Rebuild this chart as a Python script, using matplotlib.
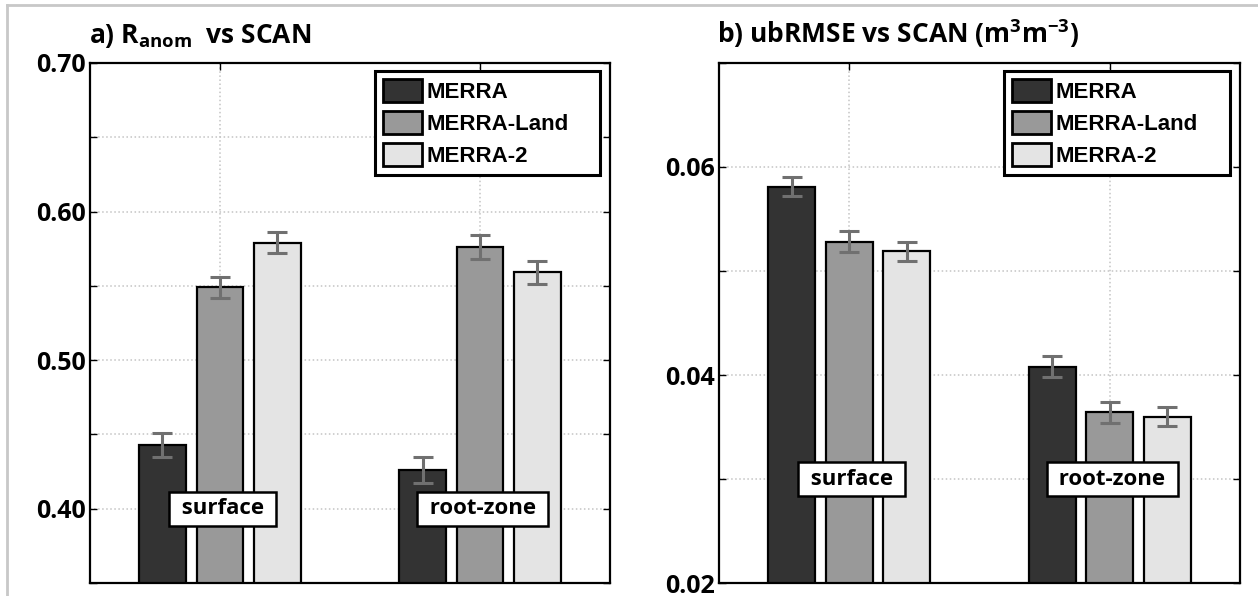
import matplotlib.pyplot as plt
from matplotlib.lines import Line2D

# datos
groups = ['surface', 'root-zone']
series = ['MERRA', 'MERRA-Land', 'MERRA-2']
colors = ['#333333', '#999999', '#e4e4e4']

r_anom = [[0.443, 0.426], [0.549, 0.576], [0.579, 0.559]]
r_err = [[0.008, 0.009], [0.007, 0.008], [0.007, 0.008]]

ubrmse = [[0.0581, 0.0408], [0.0528, 0.0364], [0.0519, 0.0360]]
u_err = [[0.0009, 0.0010], [0.0010, 0.0010], [0.0009, 0.0009]]

font = 'Open Sans'
plt.rcParams['mathtext.fontset'] = 'custom'
plt.rcParams['mathtext.rm'] = font + ':bold'


def panel(ax, vals, errs, ylim, step, labelled, label_y, err_color='#707070'):
    x = [1, 2]
    off = 0.221
    w = 0.18
    for i in range(3):
        pos = [xx + (i - 1) * off for xx in x]
        ax.bar(pos, vals[i], w, yerr=errs[i], color=colors[i], edgecolor='black',
               linewidth=1.6, label=series[i],
               error_kw=dict(ecolor=err_color, elinewidth=2.2, capsize=7, capthick=2.2))
    ax.set_xlim(0.5, 2.5)
    ax.set_ylim(*ylim)
    ticks = []
    t = ylim[0]
    while t <= ylim[1] + 1e-9:
        ticks.append(round(t, 4))
        t += step
    ax.set_yticks(ticks)
    ax.set_yticklabels([('%.2f' % t) if any(abs(t - l) < 1e-9 for l in labelled) else '' for t in ticks],
                       fontfamily=font, fontweight='bold', fontsize=18)
    ax.set_xticks(x)
    ax.set_xticklabels([])
    ax.tick_params(direction='in', length=5, width=1, top=True, right=True, pad=3)
    ax.set_axisbelow(True)
    ax.grid(True, color='#c4c4c4', linestyle=':', linewidth=1.1)
    for s in ax.spines.values():
        s.set_linewidth(1.6)
    for xx, g in zip(x, groups):
        ax.text(xx + 0.01, label_y, ' ' + g + ' ', ha='center', va='center', fontfamily=font,
                fontweight='bold', fontsize=16, zorder=6,
                bbox=dict(boxstyle='square,pad=0.3', fc='white', ec='black', lw=1.8))
    leg = ax.legend(loc='upper right', bbox_to_anchor=(0.548, 0.5, 0.433, 0.485), mode='expand',
                    borderaxespad=0, fancybox=False, edgecolor='black', framealpha=1,
                    prop={'family': 'Liberation Sans', 'weight': 'bold', 'size': 16},
                    handlelength=1.75, handleheight=1.25, labelspacing=0.35,
                    handletextpad=0.2, borderpad=0.35)
    leg.get_frame().set_linewidth(2.2)
    for p in leg.get_patches():
        p.set_linewidth(2)


fig = plt.figure(figsize=(12.58, 5.96), dpi=100)
ax1 = fig.add_axes([0.0715, 0.0218, 0.4134, 0.8725])
ax2 = fig.add_axes([0.5715, 0.0218, 0.4141, 0.8725])

panel(ax1, r_anom, r_err, (0.35, 0.70), 0.05, [0.40, 0.50, 0.60, 0.70], 0.40)
panel(ax2, ubrmse, u_err, (0.02, 0.07), 0.01, [0.02, 0.04, 0.06], 0.03)

fig.text(89 / 1258, 1 - 43 / 596, r'a) R$_{\mathregular{anom}}$  vs SCAN', fontfamily=font,
         fontweight='bold', fontsize=19, va='baseline')
fig.text(717 / 1258, 1 - 43 / 596, r'b) ubRMSE vs SCAN (m$^{\mathregular{3}}$m$^{\mathregular{-3}}$)',
         fontfamily=font, fontweight='bold', fontsize=19, va='baseline')

# marco gris
fig.add_artist(Line2D([7 / 1258, 1], [1 - 5 / 596, 1 - 5 / 596], color='#c8c8c8', lw=2))
fig.add_artist(Line2D([7 / 1258, 7 / 1258], [0, 1 - 5 / 596], color='#c8c8c8', lw=2))

fig.savefig('out.png', dpi=100)
